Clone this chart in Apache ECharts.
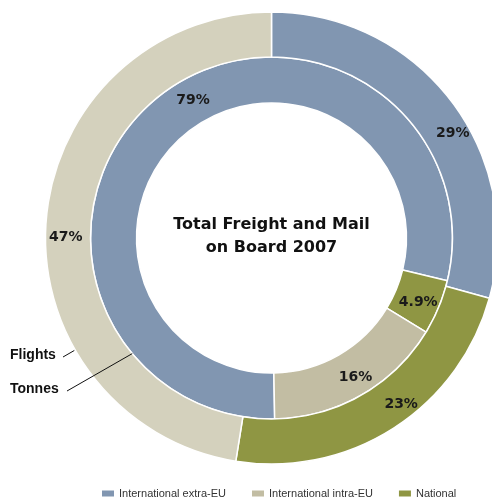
<!DOCTYPE html>
<html>
<head>
<meta charset="utf-8">
<style>
  html, body { margin: 0; padding: 0; background: #fff; }
  #chart { width: 492px; height: 497px; }
</style>
<script src="https://cdn.jsdelivr.net/npm/echarts@6/dist/echarts.min.js"></script>
</head>
<body>
<div id="chart"></div>
<script>
// Categories (shared by both rings, drawn clockwise in this order)
const categories = ['International extra-EU', 'National', 'International intra-EU'];
const legendOrder = ['International extra-EU', 'International intra-EU', 'National'];

// Share of flights (outer ring) and of tonnes carried (inner ring), in %
const flightsShare = [29, 23, 47];
const tonnesShare = [79, 4.9, 16];

const titleLines = ['Total Freight and Mail', 'on Board 2007'];

// Colours
const blue = '#8196b1';
const olive = '#8f9643';
const outerBeige = '#d4d1bd';
const innerBeige = '#c2bda3';
const outerColors = [blue, olive, outerBeige];
const innerColors = [blue, olive, innerBeige];
const legendColors = {
  'International extra-EU': blue,
  'International intra-EU': innerBeige,
  'National': olive
};

// Ring geometry (px)
const cx = 271.5, cy = 238;
const rHole = 135, rMid = 181, rOuter = 226;

// Small nudges of the value labels away from the exact mid-angle
const outerLabelOffsets = [[17, 20], [18, -7], [0, 16]];
const innerLabelOffsets = [[22, -12], [-2, 3], [4, 0]];

const labelFont = {
  fontFamily: 'DejaVu Sans',
  fontWeight: 'bold',
  fontSize: 14,
  color: '#1a1a1a'
};

function ringData(values, colors, offsets) {
  return categories.map((name, i) => ({
    name: name,
    value: values[i],
    itemStyle: { color: colors[i] },
    label: { offset: offsets[i] }
  }));
}

// Point on a circle around the centre, angle measured clockwise from 12 o'clock
function polar(r, deg) {
  const a = deg * Math.PI / 180;
  return [cx + r * Math.sin(a), cy - r * Math.cos(a)];
}

const flightsTip = polar(rOuter + 1, 240.3);
const tonnesTip = polar(rMid, 230.3);

const chart = echarts.init(document.getElementById('chart'), null, { renderer: 'canvas' });

chart.setOption({
  backgroundColor: '#fff',
  animation: false,
  legend: {
    data: legendOrder.map((n) => ({ name: n, itemStyle: { color: legendColors[n] } })),
    left: 95,
    top: 483,
    icon: 'rect',
    itemWidth: 14,
    itemHeight: 8,
    itemGap: 24,
    selectedMode: false,
    textStyle: { fontFamily: 'Liberation Sans', fontSize: 11, color: '#333', padding: [0, 0, 0, -1] }
  },
  series: [
    {
      name: 'Tonnes',
      type: 'pie',
      center: [cx, cy],
      radius: [rHole, rMid],
      startAngle: -89,
      clockwise: true,
      silent: true,
      itemStyle: { borderColor: '#fff', borderWidth: 1.5 },
      label: Object.assign({ show: true, position: 'inside', formatter: '{c}%' }, labelFont),
      labelLine: { show: false },
      data: ringData(tonnesShare, innerColors, innerLabelOffsets)
    },
    {
      name: 'Flights',
      type: 'pie',
      center: [cx, cy],
      radius: [rMid, rOuter],
      startAngle: 90,
      clockwise: true,
      silent: true,
      itemStyle: { borderColor: '#fff', borderWidth: 1.5 },
      label: Object.assign({ show: true, position: 'inside', formatter: '{c}%' }, labelFont),
      labelLine: { show: false },
      data: ringData(flightsShare, outerColors, outerLabelOffsets)
    }
  ],
  graphic: [
    {
      type: 'text',
      z: 100,
      x: cx, y: cy - 2,
      style: {
        text: titleLines.join('\n'),
        align: 'center',
        verticalAlign: 'middle',
        fontFamily: 'DejaVu Sans',
        fontWeight: 'bold',
        fontSize: 16,
        lineHeight: 23,
        fill: '#111'
      }
    },
    {
      type: 'text',
      z: 100,
      x: 10, y: 355,
      style: {
        text: 'Flights',
        verticalAlign: 'middle',
        fontFamily: 'Liberation Sans',
        fontWeight: 'bold',
        fontSize: 14,
        fill: '#111'
      }
    },
    {
      type: 'text',
      z: 100,
      x: 10, y: 389.5,
      style: {
        text: 'Tonnes',
        verticalAlign: 'middle',
        fontFamily: 'Liberation Sans',
        fontWeight: 'bold',
        fontSize: 14,
        fill: '#111'
      }
    },
    {
      type: 'line',
      z: 100,
      shape: { x1: 63, y1: 357, x2: flightsTip[0], y2: flightsTip[1] },
      style: { stroke: '#111', lineWidth: 1 }
    },
    {
      type: 'line',
      z: 100,
      shape: { x1: 67, y1: 391, x2: tonnesTip[0], y2: tonnesTip[1] },
      style: { stroke: '#111', lineWidth: 1 }
    }
  ]
});
</script>
</body>
</html>
